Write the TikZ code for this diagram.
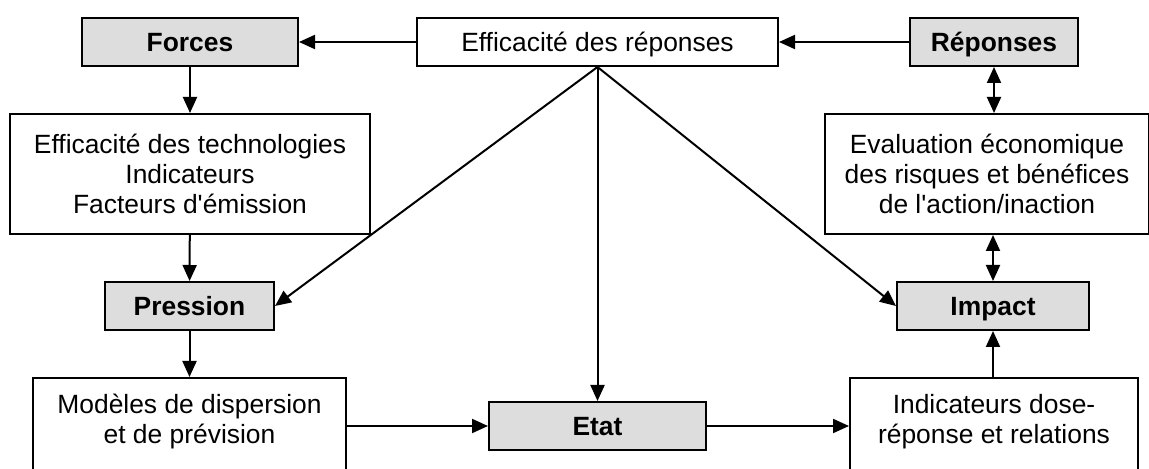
\documentclass[tikz,border=0pt]{standalone}
\usepackage{fontspec}
\setmainfont{Liberation Sans}
\usetikzlibrary{arrows.meta}
\definecolor{boxgray}{RGB}{221,221,221}
\tikzset{
	box/.style = {draw, line width=1pt, align=center, inner sep=0pt,
		font=\fontsize{13.2pt}{15pt}\selectfont},
	graybox/.style = {box, fill=boxgray, minimum height=24pt, text height=12.2pt, text depth=2.75pt,
		font=\fontsize{13.2pt}{15pt}\selectfont\bfseries},
	arr/.style = {line width=1pt, -{Triangle[length=8pt,width=7pt]}},
	darr/.style = {line width=1pt, {Triangle[length=8pt,width=7pt]}-{Triangle[length=8pt,width=7pt]}}
}
\begin{document}
\begin{tikzpicture}[x=0.5pt, y=-0.5pt]
	\useasboundingbox (0,0) rectangle (1149,469);
	
	\node[graybox, minimum width=108pt] (forces) at (190,42) {Forces};
	\node[box, minimum width=180.5pt, minimum height=24pt, text height=12.2pt, text depth=2.75pt] (effrep) at (597.5,42) {Efficacité des réponses};
	\node[graybox, minimum width=84pt] (reponses) at (994,42) {Réponses};
	
	\node[box, minimum width=180pt, minimum height=60pt] (techno) at (190,174) {Efficacité des technologies\\Indicateurs\\Facteurs d\textquotesingle émission};
	\node[box, minimum width=162pt, minimum height=60pt] (evalu) at (987,174) {Evaluation économique\\des risques et bénéfices\\de l\textquotesingle action/inaction};
	
	\node[graybox, minimum width=84.5pt] (pression) at (189.5,306) {Pression};
	\node[graybox, minimum width=96pt] (impact) at (993,306) {Impact};
	
	\node[box, minimum width=156.5pt, minimum height=60pt] (modeles) at (189.5,438) {Modèles de dispersion\\et de prévision\\\strut};
	\node[graybox, minimum width=108.5pt] (etat) at (597.5,426) {Etat};
	\node[box, minimum width=144pt, minimum height=60pt] (indic) at (994,438) {Indicateurs dose-\\réponse et relations\\\strut};
	
	% top row
	\draw[arr] (effrep) -- (forces);
	\draw[arr] (reponses) -- (effrep);
	
	% left column
	\draw[arr] (forces) -- (techno);
	\draw[arr] (techno) -- (pression);
	\draw[arr] (pression) -- (modeles);
	
	% from the response efficiency
	\draw[arr] (effrep.south) -- (pression.east);
	\draw[arr] (effrep.south) -- (etat.north);
	\draw[arr] (effrep.south) -- (impact.west);
	
	% bottom row
	\draw[arr] (modeles.east |- etat) -- (etat.west);
	\draw[arr] (etat.east) -- (etat -| indic.west);
	
	% right column
	\draw[darr] (reponses.south) -- (reponses.south |- evalu.north);
	\draw[darr] (impact.north |- evalu.south) -- (impact.north);
	\draw[arr] (impact.south |- indic.north) -- (impact.south);
	
\end{tikzpicture}
\end{document}
